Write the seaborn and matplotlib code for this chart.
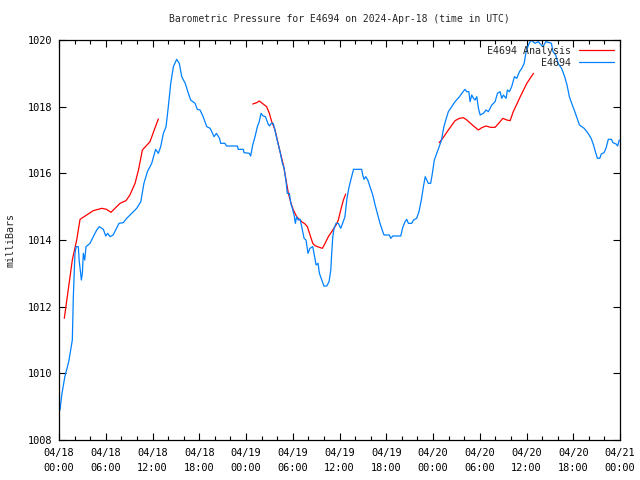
import numpy as np
import pandas as pd
import matplotlib
matplotlib.use("Agg")
import matplotlib.pyplot as plt
import matplotlib.dates as mdates
import seaborn as sns

# hours after 2024-04-18 00:00 UTC, pressure in mbar
obs_hours = [0.13, 0.35, 0.75, 1.25, 1.71, 1.84, 2.05, 2.2, 2.48, 2.6, 2.73, 2.87, 3.0, 3.12, 3.3, 3.47,
             3.98, 4.4, 4.84, 5.17, 5.69, 6.0, 6.25, 6.55, 6.95, 7.7, 8.25, 8.69, 9.33, 9.97, 10.5, 10.9,
             11.35, 11.9, 12.4, 12.75, 13.05, 13.4, 13.74, 14.03, 14.34, 14.68, 15.1, 15.44, 15.75, 16.2,
             16.6, 16.9, 17.46, 17.75, 18.1, 18.5, 18.96, 19.4, 19.9, 20.2, 20.6, 20.75, 21.3, 21.5, 22.9,
             23.0, 23.66, 23.75, 24.43, 24.6, 24.86, 25.16, 25.46, 25.7, 25.93, 26.2, 26.5, 26.8, 27.0,
             27.25, 27.5, 27.8, 28.1, 28.37, 28.67, 28.9, 29.14, 29.3, 29.56, 29.75, 29.95, 30.17, 30.33,
             30.5, 30.7, 30.94, 31.15, 31.45, 31.7, 31.96, 32.2, 32.57, 32.73, 33.0, 33.25, 33.42, 33.72,
             34.0, 34.37, 34.66, 34.88, 35.0, 35.14, 35.3, 35.56, 35.85, 36.16, 36.4, 36.7, 36.93, 37.19,
             37.45, 37.8, 38.85, 38.98, 39.15, 39.37, 39.63, 39.92, 40.27, 40.57, 40.86, 41.2, 41.55,
             41.72, 42.4, 42.58, 42.84, 43.86, 44.12, 44.42, 44.63, 44.84, 45.27, 45.5, 45.9, 46.2, 46.5,
             46.77, 47.0, 47.2, 47.4, 47.7, 47.92, 48.17, 48.48, 48.78, 49.1, 49.2, 49.4, 49.64, 49.97,
             50.4, 50.83, 51.4, 51.7, 52.1, 52.34, 52.6, 52.76, 52.97, 53.2, 53.4, 53.62, 53.83, 54.05,
             54.47, 54.8, 55.1, 55.55, 55.97, 56.27, 56.6, 56.83, 57.03, 57.38, 57.55, 57.8, 58.1, 58.45,
             58.75, 59.1, 59.4, 59.7, 59.95, 60.25, 60.55, 61.1, 61.5, 62.1, 62.5, 63.2, 63.4, 63.75,
             64.05, 64.5, 64.9, 65.2, 65.5, 65.8, 66.2, 66.5, 66.8, 67.1, 67.4, 67.9, 68.3, 68.6, 68.9,
             69.1, 69.4, 69.6, 69.95, 70.2, 70.5, 70.9, 71.1, 71.5, 71.7, 71.9]
obs_mbar = [1008.9, 1009.35, 1009.9, 1010.35, 1011.0, 1012.3, 1013.6, 1013.8, 1013.8, 1013.35, 1013.1,
            1012.8, 1013.0, 1013.6, 1013.4, 1013.8, 1013.9, 1014.1, 1014.3, 1014.4, 1014.32, 1014.12,
            1014.2, 1014.1, 1014.15, 1014.5, 1014.52, 1014.65, 1014.8, 1014.95, 1015.15, 1015.7, 1016.05,
            1016.3, 1016.72, 1016.6, 1016.8, 1017.2, 1017.4, 1018.0, 1018.7, 1019.2, 1019.42, 1019.3,
            1018.9, 1018.7, 1018.4, 1018.2, 1018.1, 1017.92, 1017.9, 1017.7, 1017.4, 1017.35, 1017.1,
            1017.2, 1017.05, 1016.9, 1016.9, 1016.82, 1016.82, 1016.72, 1016.72, 1016.62, 1016.6,
            1016.52, 1016.85, 1017.1, 1017.4, 1017.55, 1017.8, 1017.72, 1017.7, 1017.5, 1017.42, 1017.5,
            1017.5, 1017.2, 1016.9, 1016.65, 1016.3, 1016.15, 1015.75, 1015.4, 1015.4, 1015.1, 1014.95,
            1014.75, 1014.5, 1014.7, 1014.6, 1014.62, 1014.4, 1014.05, 1014.0, 1013.6, 1013.75, 1013.8,
            1013.6, 1013.25, 1013.3, 1013.0, 1012.8, 1012.62, 1012.62, 1012.75, 1013.1, 1013.6, 1014.1,
            1014.35, 1014.5, 1014.5, 1014.35, 1014.5, 1014.7, 1015.2, 1015.55, 1015.8, 1016.12, 1016.12,
            1015.95, 1015.82, 1015.9, 1015.8, 1015.6, 1015.35, 1015.05, 1014.8, 1014.5, 1014.25,
            1014.15, 1014.15, 1014.05, 1014.12, 1014.12, 1014.38, 1014.55, 1014.62, 1014.5, 1014.5,
            1014.6, 1014.65, 1014.85, 1015.2, 1015.6, 1015.9, 1015.8, 1015.7, 1015.7, 1016.0, 1016.4,
            1016.6, 1016.8, 1017.0, 1017.15, 1017.4, 1017.6, 1017.85, 1018.0, 1018.15, 1018.3, 1018.4,
            1018.52, 1018.45, 1018.45, 1018.15, 1018.35, 1018.25, 1018.2, 1018.3, 1017.95, 1017.75,
            1017.8, 1017.9, 1017.85, 1018.05, 1018.15, 1018.4, 1018.45, 1018.25, 1018.35, 1018.25,
            1018.5, 1018.45, 1018.6, 1018.9, 1018.85, 1019.05, 1019.15, 1019.3, 1019.65, 1019.85,
            1020.0, 1019.9, 1019.95, 1019.8, 1019.95, 1019.9, 1019.65, 1019.55, 1019.3, 1019.15,
            1018.9, 1018.65, 1018.3, 1018.1, 1017.85, 1017.65, 1017.45, 1017.4, 1017.35, 1017.2,
            1017.05, 1016.85, 1016.6, 1016.45, 1016.45, 1016.58, 1016.62, 1016.75, 1017.02, 1017.02,
            1016.92, 1016.88, 1016.82, 1017.0]

# analysis runs (three separate pieces)
ana1_hours = [0.68, 1.71, 2.27, 2.7, 3.55, 4.4, 5.48, 6.1, 6.67, 7.83, 8.6, 9.1, 9.76, 10.2, 10.7,
              11.68, 12.3, 12.75]
ana1_mbar = [1011.65, 1013.4, 1014.0, 1014.62, 1014.75, 1014.88, 1014.95, 1014.92, 1014.83, 1015.1,
             1015.18, 1015.35, 1015.7, 1016.1, 1016.7, 1016.95, 1017.35, 1017.63]
ana2_hours = [24.86, 25.37, 25.7, 26.2, 26.65, 27.0, 27.3, 27.73, 28.07, 28.37, 28.8, 29.14, 29.44,
              29.78, 30.08, 30.5, 31.15, 31.58, 31.88, 32.22, 32.57, 32.86, 33.42, 33.8, 34.15, 34.57,
              35.0, 35.56, 35.85, 36.16, 36.5, 36.8]
ana2_mbar = [1018.08, 1018.12, 1018.17, 1018.08, 1018.0, 1017.8, 1017.55, 1017.3, 1016.95, 1016.65,
             1016.25, 1015.8, 1015.4, 1015.1, 1014.9, 1014.7, 1014.55, 1014.48, 1014.4, 1014.15, 1013.9,
             1013.83, 1013.78, 1013.75, 1013.9, 1014.1, 1014.25, 1014.45, 1014.6, 1014.9, 1015.2,
             1015.38]
ana3_hours = [48.8, 49.33, 49.97, 50.83, 51.4, 51.9, 52.34, 53.2, 53.83, 54.26, 54.8, 55.4, 55.97,
              56.5, 56.96, 57.47, 57.9, 58.3, 59.2, 60.04, 60.9]
ana3_mbar = [1016.92, 1017.08, 1017.3, 1017.58, 1017.65, 1017.67, 1017.6, 1017.42, 1017.3, 1017.37,
             1017.42, 1017.38, 1017.38, 1017.52, 1017.65, 1017.6, 1017.58, 1017.85, 1018.3, 1018.7,
             1019.0]

START = pd.Timestamp("2024-04-18 00:00")


def frame(hours, mbar, name, seg):
    return pd.DataFrame({
        "time": START + pd.to_timedelta(hours, unit="h"),
        "mbar": mbar,
        "series": name,
        "seg": seg,
    })


df = pd.concat([
    frame(ana1_hours, ana1_mbar, "E4694 Analysis", 1),
    frame(ana2_hours, ana2_mbar, "E4694 Analysis", 2),
    frame(ana3_hours, ana3_mbar, "E4694 Analysis", 3),
    frame(obs_hours, obs_mbar, "E4694", 4),
], ignore_index=True)

sns.set_style("ticks")
plt.rcParams["font.family"] = ["DejaVu Sans Mono", "DejaVu Sans"]
plt.rcParams["font.size"] = 7.4

fig = plt.figure(figsize=(6.4, 4.8), dpi=100)
ax = fig.add_axes([59 / 640, 40 / 480, 561 / 640, 400 / 480])

sns.lineplot(data=df, x="time", y="mbar", hue="series", units="seg", estimator=None,
             hue_order=["E4694 Analysis", "E4694"],
             palette={"E4694 Analysis": "#ff0000", "E4694": "#0080ff"},
             linewidth=0.9, ax=ax)

ax.set_xlim(START, START + pd.Timedelta(hours=72))
ax.set_ylim(1008, 1020)
ax.set_yticks(np.arange(1008, 1021, 2))
ax.xaxis.set_major_locator(mdates.HourLocator(byhour=[0, 6, 12, 18]))
ax.xaxis.set_minor_locator(mdates.HourLocator(interval=2))
ax.xaxis.set_major_formatter(mdates.DateFormatter("%m/%d\n%H:%M"))

ax.tick_params(which="both", direction="in", top=True, right=True, width=0.8,
               labelsize=7.4, colors="black")
ax.tick_params(which="major", length=5)
ax.tick_params(which="minor", length=3)
ax.tick_params(axis="x", pad=6)
ax.tick_params(axis="y", pad=5)
for lab in ax.get_xticklabels():
    lab.set_linespacing(1.55)
for s in ax.spines.values():
    s.set_linewidth(0.9)
    s.set_color("black")

ax.set_xlabel("")
ax.set_ylabel("milliBars", fontsize=7.2, labelpad=9)
ax.set_title("Barometric Pressure for E4694 on 2024-Apr-18 (time in UTC)", fontsize=7, pad=13)

leg = ax.legend(loc="upper right", frameon=False, markerfirst=False, fontsize=7.2,
                handlelength=3.5, borderaxespad=0.2, labelspacing=0.2, handletextpad=0.8)
for t in leg.get_texts():
    t.set_ha("right")

fig.savefig("out.png", dpi=100)
